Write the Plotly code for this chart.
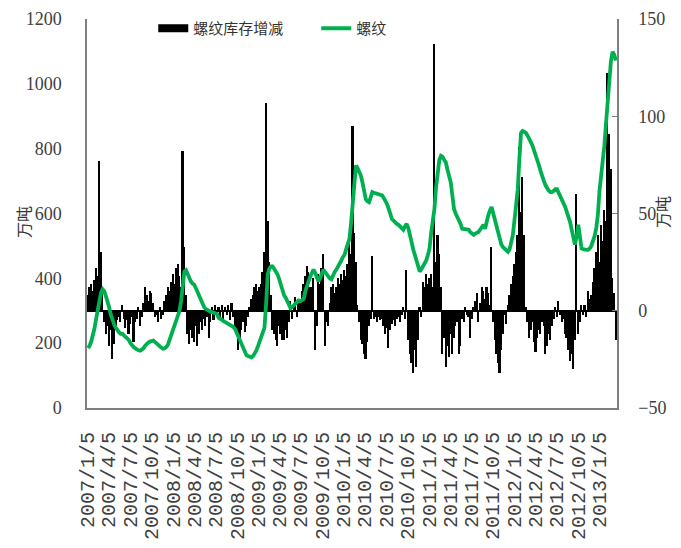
import pandas as pd
import plotly.graph_objects as go

start_date = "2007-01-05"

# 螺纹 (left axis, 万吨), weekly
rebar_stock = [
    185, 192, 205, 222, 245, 275, 305, 335, 355, 366,
    360, 345, 330, 310, 288, 269, 258, 248, 238, 234,
    229, 229, 224, 220, 217, 210, 200, 192, 188, 184,
    180, 178, 177, 180, 184, 192, 198, 202, 205, 208,
    208, 204, 198, 194, 190, 186, 183, 184, 188, 196,
    210, 225, 238, 252, 270, 285, 299, 330, 380, 421,
    425, 412, 400, 390, 384, 381, 370, 358, 345, 330,
    320, 312, 306, 302, 299, 297, 296, 294, 292, 290,
    278, 276, 272, 268, 265, 262, 259, 256, 254, 250,
    244, 232, 220, 208, 195, 182, 168, 163, 160, 158,
    156, 160, 168, 177, 190, 203, 217, 230, 247, 320,
    412, 430, 437, 437, 430, 420, 412, 398, 380, 360,
    348, 340, 330, 318, 308, 312, 318, 324, 330, 332,
    330, 332, 336, 360, 380, 391, 405, 420, 427, 418,
    405, 391, 400, 412, 427, 420, 412, 405, 400, 397,
    410, 420, 427, 435, 445, 455, 465, 473, 490, 505,
    522, 570, 626, 705, 748, 740, 730, 717, 695, 670,
    644, 638, 635, 650, 666, 664, 662, 660, 659, 658,
    656, 648, 640, 629, 615, 600, 583, 578, 572, 568,
    565, 560, 555, 550, 560, 568, 555, 538, 513, 490,
    470, 452, 435, 421, 428, 436, 443, 455, 472, 492,
    540, 580, 614, 680, 736, 765, 778, 775, 765, 757,
    735, 715, 696, 655, 614, 600, 590, 583, 568, 553,
    552, 551, 550, 550, 542, 538, 534, 538, 540, 543,
    550, 558, 565, 553, 580, 595, 610, 620, 600, 580,
    565, 545, 525, 504, 496, 490, 485, 482, 490, 510,
    534, 580, 630, 675, 770, 849, 855, 853, 849, 840,
    832, 820, 809, 795, 780, 765, 748, 730, 712, 700,
    687, 678, 670, 666, 666, 670, 675, 675, 665, 655,
    645, 635, 620, 605, 590, 574, 550, 525, 504, 530,
    565, 530, 492, 490, 488, 488, 488, 492, 500, 513,
    530, 555, 595, 670, 720, 748, 810, 879, 950, 1032,
    1070, 1099, 1090, 1072,
]

# 螺纹库存增减 (right axis, 万吨), weekly
stock_change = [
    8, 12, 14, 10, 16, 22, 18, 77, 30, 12,
    -6, -12, -8, -18, -10, -25, -17, -8, -5, -3,
    -6, 3, -4, -9, -5, -12, -7, -3, -16, -6,
    -4, 2, -8, -3, 4, 12, 8, 5, 10, 9,
    4, -3, -2, -6, 2, -4, -2, 5, 8, 12,
    10, 15, 19, 14, 22, 24, 18, 12, 82, 33,
    8, -12, -17, -10, -14, -16, -8, -18, -12, -6,
    -10, -4, -8, -3, -14, -6, 2, -5, 3, -2,
    2, -3, 3, -4, 2, -2, 3, -5, 4, -3,
    -8, -12, -20, -15, -10, -6, -11, -8, -3, 2,
    6, 8, 12, 14, 10, 12, 14, 20, 30, 107,
    46, 25, 8, -10, -12, -15, -18, -8, -12, -15,
    -15, -10, -14, -6, 5, -4, 2, 7, -3, 6,
    4, 10, 14, 18, 23, 20, 12, 12, 17, -20,
    -8, 19, 14, 22, 29, -18, -6, -8, 4, 12,
    14, 9, 12, 17, 14, 19, 16, 21, 18, 24,
    36, 29, 95, 40, 25, 3, -6, -15, -17, -22,
    -25, -16, -8, -4, 28, -4, -3, -6, -3, -5,
    -4, -8, -12, -9, -19, -10, -7, -5, -8, -4,
    -3, -6, -2, 2, -4, 21, -15, -22, -27, -32,
    -20, -29, -15, 2, -3, 15, 12, 19, 14, 17,
    19, 12, 137, 25, 39, 29, 12, -22, -14, -29,
    -18, -24, -12, -22, -14, -8, -6, -22, -18, -4,
    -6, 2, -2, -3, -14, -4, 2, 5, 9, -6,
    4, 12, 10, 6, 12, 9, 3, 33, -6, -15,
    -22, -27, -32, -20, -12, -2, -7, 3, 8, 14,
    18, 24, 30, 39, 84, 51, 69, 39, 2, -6,
    -14, -10, -6, -16, -21, -14, -10, -12, -6, -8,
    -22, -18, -12, -15, -8, -4, 2, -3, 5, -2,
    -6, -4, -12, -14, -20, -26, -22, -30, -15, 60,
    -12, -6, 3, -2, 3, -3, 10, 6, 8, 15,
    22, 30, 39, 25, 44, 36, 52, 46, 122, 91,
    73, 17, 9, -15,
]

tick_labels = [
    "2007/1/5", "2007/4/5", "2007/7/5", "2007/10/5",
    "2008/1/5", "2008/4/5", "2008/7/5", "2008/10/5",
    "2009/1/5", "2009/4/5", "2009/7/5", "2009/10/5",
    "2010/1/5", "2010/4/5", "2010/7/5", "2010/10/5",
    "2011/1/5", "2011/4/5", "2011/7/5", "2011/10/5",
    "2012/1/5", "2012/4/5", "2012/7/5", "2012/10/5",
    "2013/1/5",
]

dates = pd.date_range(start_date, periods=len(rebar_stock), freq="7D")
tick_vals = pd.to_datetime(tick_labels, format="%Y/%m/%d")

WEEK_MS = 7 * 24 * 3600 * 1000
label_color = "#404040"
axis_color = "#7f7f7f"

fig = go.Figure()

fig.add_trace(go.Bar(
    x=dates, y=stock_change, yaxis="y",
    marker=dict(color="black", line=dict(width=0)),
    width=WEEK_MS, name="螺纹库存增减", showlegend=False,
))
# legend entry for the bars (wide black rectangle like the original)
fig.add_trace(go.Scatter(
    x=[None], y=[None], yaxis="y", mode="lines",
    line=dict(color="black", width=8), name="螺纹库存增减",
))
fig.add_trace(go.Scatter(
    x=dates, y=rebar_stock, yaxis="y2", mode="lines",
    line=dict(color="#00B050", width=3.8), name="螺纹",
))

fig.update_layout(
    width=673, height=540,
    margin=dict(l=79, r=64, t=11, b=140, autoexpand=False),
    plot_bgcolor="white", paper_bgcolor="white",
    bargap=0,
    showlegend=True,
    legend=dict(
        orientation="h", x=0.125, y=1.018, xanchor="left", yanchor="top",
        font=dict(family="Noto Sans CJK SC", size=15, color="#333333"),
        entrywidth=118, bgcolor="rgba(0,0,0,0)",
    ),
    xaxis=dict(
        type="date", automargin=False,
        range=["2007-01-01", "2013-03-20"],
        tickvals=tick_vals, ticktext=tick_labels,
        tickangle=-90,
        tickfont=dict(family="Liberation Mono", size=20, color=label_color),
        showgrid=False, showline=True, linecolor=axis_color, linewidth=2,
        ticks="", ticklabelstandoff=14,
        anchor="y",
    ),
    yaxis=dict(
        side="right", range=[-50, 150], tickvals=[-50, 0, 50, 100, 150],
        automargin=False, ticklabeloverflow="allow",
        tickfont=dict(family="Liberation Serif", size=18, color=label_color),
        showgrid=False, showline=True, linecolor=axis_color, linewidth=1.5,
        ticks="inside", ticklen=5, tickcolor=axis_color,
        zeroline=True, zerolinecolor="black", zerolinewidth=2,
        ticklabelstandoff=16,
    ),
    yaxis2=dict(
        side="left", overlaying="y", range=[0, 1200], dtick=200,
        automargin=False, ticklabeloverflow="allow",
        tickfont=dict(family="Liberation Serif", size=18, color=label_color),
        showgrid=False, showline=True, linecolor=axis_color, linewidth=1.5,
        ticks="", zeroline=False, ticklabelstandoff=20,
    ),
    annotations=[
        dict(text="万吨", x=-0.121, y=0.478, xref="paper", yref="paper",
             xanchor="center", yanchor="middle",
             showarrow=False, textangle=-90,
             font=dict(family="Noto Sans CJK SC", size=16, color="#333333")),
        dict(text="万吨", x=1.085, y=0.504, xref="paper", yref="paper",
             xanchor="center", yanchor="middle",
             showarrow=False, textangle=-90,
             font=dict(family="Noto Sans CJK SC", size=16, color="#333333")),
    ],
)

fig.write_html("out.html")
